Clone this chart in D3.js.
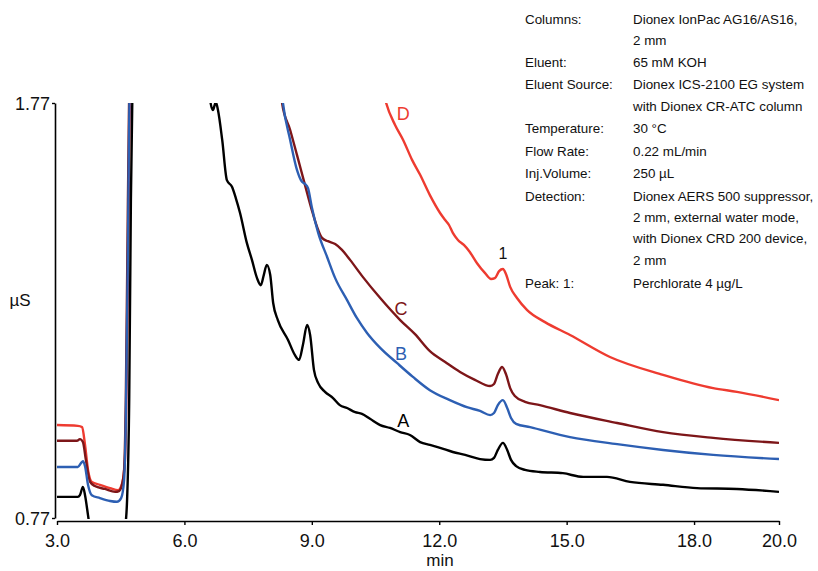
<!DOCTYPE html>
<html>
<head>
<meta charset="utf-8">
<script src="https://cdn.jsdelivr.net/npm/d3@7"></script>
<style>
  body { margin: 0; background: #fff; }
  text { font-family: "Liberation Sans", Arial, sans-serif; }
  .note { font-family: "Liberation Sans Narrow", "Arial Narrow", "Liberation Sans", sans-serif; font-size: 13.4px; }
</style>
</head>
<body>
<script>
// chromatogram traces, [time (min), conductivity (µS)]
// values above 1.77 / below 0.77 are off scale and get clipped
const traceA = [[3.00,0.821],[3.49,0.821],[3.54,0.825],[3.61,0.845],[3.66,0.825],[3.73,0.777],[3.78,0.741],[3.89,0.669],
  [4.25,0.645],[4.48,0.669],[4.60,0.741],[4.65,0.813],[4.70,1.054],[4.74,1.536],[4.79,1.898],[5.2,2.5],[6.0,2.4],[6.55,1.95],
  [6.60,1.782],[6.67,1.753],[6.74,1.772],[6.79,1.753],[6.89,1.681],[7.00,1.584],[7.12,1.568],[7.21,1.541],[7.31,1.505],
  [7.47,1.433],[7.59,1.392],[7.71,1.348],[7.80,1.331],[7.87,1.356],[7.94,1.380],[8.02,1.356],[8.09,1.288],[8.20,1.247],
  [8.44,1.199],[8.60,1.163],[8.70,1.151],[8.79,1.187],[8.89,1.235],[8.96,1.211],[9.05,1.127],[9.15,1.095],[9.31,1.074],
  [9.50,1.059],[9.66,1.042],[9.83,1.035],[10.02,1.025],[10.18,1.021],[10.37,1.009],[10.61,0.994],[10.84,0.987],[11.08,0.977],
  [11.31,0.970],[11.55,0.953],[11.78,0.946],[12.02,0.939],[12.32,0.929],[12.61,0.922],[12.96,0.912],[13.20,0.910],[13.29,0.915],
  [13.38,0.934],[13.50,0.951],[13.60,0.934],[13.69,0.910],[13.81,0.895],[14.02,0.886],[14.37,0.881],[14.91,0.878],[15.39,0.869],
  [15.95,0.869],[16.49,0.857],[17.27,0.850],[18.07,0.842],[19.01,0.840],[20.00,0.833]];

const traceB = [[3.00,0.893],[3.49,0.893],[3.57,0.903],[3.61,0.907],[3.66,0.895],[3.73,0.850],[3.82,0.825],[4.01,0.818],
  [4.25,0.811],[4.41,0.809],[4.51,0.818],[4.58,0.862],[4.62,1.006],[4.67,1.416],[4.72,1.898],[5.5,2.6],[7.0,2.4],[8.2,1.9],
  [8.32,1.770],[8.49,1.681],[8.65,1.609],[8.77,1.580],[8.84,1.575],[8.91,1.565],[9.00,1.519],[9.15,1.457],[9.36,1.399],
  [9.55,1.348],[9.83,1.295],[10.06,1.252],[10.30,1.216],[10.61,1.180],[11.01,1.143],[11.38,1.110],[11.78,1.078],[12.25,1.054],
  [12.65,1.037],[12.96,1.028],[13.20,1.018],[13.29,1.023],[13.38,1.042],[13.50,1.054],[13.60,1.035],[13.69,1.011],[13.81,0.997],
  [14.14,0.989],[15.08,0.965],[16.19,0.948],[17.27,0.934],[18.45,0.922],[20.00,0.912]];

const traceC = [[3.00,0.956],[3.47,0.956],[3.54,0.960],[3.61,0.953],[3.68,0.910],[3.78,0.857],[3.89,0.847],[4.13,0.840],
  [4.37,0.833],[4.46,0.835],[4.53,0.850],[4.58,0.886],[4.62,1.054],[4.67,1.536],[4.72,1.898],[5.5,2.6],[7.0,2.4],[8.2,1.9],
  [8.30,1.770],[8.49,1.705],[8.65,1.645],[8.84,1.572],[9.00,1.512],[9.15,1.464],[9.24,1.445],[9.38,1.437],[9.55,1.430],
  [9.71,1.416],[9.90,1.392],[10.20,1.351],[10.61,1.300],[11.08,1.247],[11.43,1.213],[11.78,1.172],[12.14,1.146],[12.49,1.122],
  [12.84,1.103],[13.20,1.088],[13.29,1.093],[13.38,1.117],[13.48,1.134],[13.57,1.117],[13.67,1.083],[13.78,1.064],[14.02,1.050],
  [14.37,1.042],[15.08,1.023],[16.19,0.999],[17.27,0.977],[18.45,0.963],[20.00,0.951]];

const traceD = [[3.00,0.994],[3.49,0.992],[3.59,0.989],[3.66,0.946],[3.73,0.886],[3.82,0.857],[4.01,0.850],[4.25,0.842],
  [4.44,0.837],[4.53,0.852],[4.60,0.910],[4.65,1.175],[4.70,1.657],[4.74,1.898],[6.0,2.6],[9.0,2.3],[10.5,1.9],
  [10.75,1.770],[10.96,1.717],[11.15,1.681],[11.36,1.633],[11.55,1.597],[11.78,1.548],[12.02,1.505],[12.14,1.488],[12.23,1.476],
  [12.32,1.457],[12.44,1.440],[12.58,1.428],[12.72,1.411],[12.89,1.384],[13.08,1.360],[13.22,1.346],[13.31,1.348],[13.41,1.365],
  [13.50,1.370],[13.57,1.358],[13.67,1.327],[13.83,1.300],[14.07,1.271],[14.49,1.242],[15.08,1.211],[16.02,1.158],[17.27,1.115],
  [18.45,1.083],[19.01,1.074],[20.00,1.054]];

const xTicks = [3, 6, 9, 12, 15, 18, 20];
const yTicks = [0.77, 1.77];

const traceNames = ["A", "B", "C", "D"];
const traceColors = ["#000000", "#2d5fb3", "#7d1619", "#ee3b30"];
const labelPos = [[11.15, 0.99], [11.1, 1.15], [11.1, 1.26], [11.15, 1.73]];

const noteLabels = ["Columns:", "", "Eluent:", "Eluent Source:", "", "Temperature:", "Flow Rate:", "Inj.Volume:",
  "Detection:", "", "", "", "Peak: 1:"];
const noteValues = ["Dionex IonPac AG16/AS16,", "2 mm", "65 mM KOH", "Dionex ICS-2100 EG system",
  "with Dionex CR-ATC column", "30 °C", "0.22 mL/min", "250 µL", "Dionex AERS 500 suppressor,",
  "2 mm, external water mode,", "with Dionex CRD 200 device,", "2 mm", "Perchlorate 4 µg/L"];

let width = 818
let height = 571

let svg = d3.select("body").append("svg")
    .attr("width", width)
    .attr("height", height)

let x = d3.scaleLinear().domain([3, 20]).range([57, 779])
let y = d3.scaleLinear().domain([0.77, 1.77]).range([518, 103])

svg.append("clipPath").attr("id", "plot")
  .append("rect").attr("x", 57).attr("y", 103).attr("width", 722).attr("height", 416)

// axes
let xAxis = svg.append("g")
    .attr("transform", "translate(0,521)")
    .call(d3.axisBottom(x).tickValues(xTicks).tickFormat(d3.format(".1f")).tickSize(4).tickSizeOuter(0))
let yAxis = svg.append("g")
    .attr("transform", "translate(55,0)")
    .call(d3.axisLeft(y).tickValues(yTicks).tickFormat(d3.format(".2f")).tickSize(3).tickSizeOuter(0))

svg.selectAll(".domain").attr("stroke", "#000").attr("stroke-width", 1.6)
svg.selectAll(".tick line").attr("stroke", "#000").attr("stroke-width", 1.4)
xAxis.selectAll(".tick text").attr("font-size", 18).attr("fill", "#111").attr("dy", "1.05em")
yAxis.selectAll(".tick text").attr("font-size", 18).attr("fill", "#111").attr("x", -5).attr("dy", "0.35em")

svg.append("text").attr("x", 440).attr("y", 566).attr("text-anchor", "middle")
  .attr("font-size", 17).attr("fill", "#111").text("min")
svg.append("text").attr("x", 20).attr("y", 306).attr("text-anchor", "middle")
  .attr("font-size", 17).attr("fill", "#111").text("µS")

// traces
let line = d3.line()
    .x(d => x(d[0]))
    .y(d => y(d[1]))
    .curve(d3.curveMonotoneX)

let traces = [traceA, traceB, traceC, traceD]
let plot = svg.append("g").attr("clip-path", "url(#plot)")
// draw D first so black sits on top
plot.selectAll("path")
    .data(traces.map((t, i) => ({ t, i })).reverse()).enter()
    .append("path")
    .attr("d", d => line(d.t))
    .attr("fill", "none")
    .attr("stroke", d => traceColors[d.i])
    .attr("stroke-width", 2.4)
    .attr("stroke-linejoin", "round")

svg.selectAll(".tracelabel")
    .data(traceNames).enter()
    .append("text")
    .attr("class", "tracelabel")
    .attr("x", (d, i) => x(labelPos[i][0]))
    .attr("y", (d, i) => y(labelPos[i][1]))
    .attr("text-anchor", "middle")
    .attr("font-size", 18)
    .attr("fill", (d, i) => traceColors[i])
    .text(d => d)

svg.append("text").attr("x", x(13.5)).attr("y", y(1.394))
  .attr("text-anchor", "middle").attr("font-size", 16).attr("fill", "#111").text("1")

// conditions block
let rowY = [24, 45, 67, 89, 111, 133, 156, 178, 201, 222, 243, 265, 288]
svg.selectAll(".nl").data(noteLabels).enter().append("text")
    .attr("class", "note").attr("x", 525).attr("y", (d, i) => rowY[i]).attr("fill", "#111").text(d => d)
svg.selectAll(".nv").data(noteValues).enter().append("text")
    .attr("class", "note").attr("x", 633).attr("y", (d, i) => rowY[i]).attr("fill", "#111").text(d => d)
</script>
</body>
</html>
